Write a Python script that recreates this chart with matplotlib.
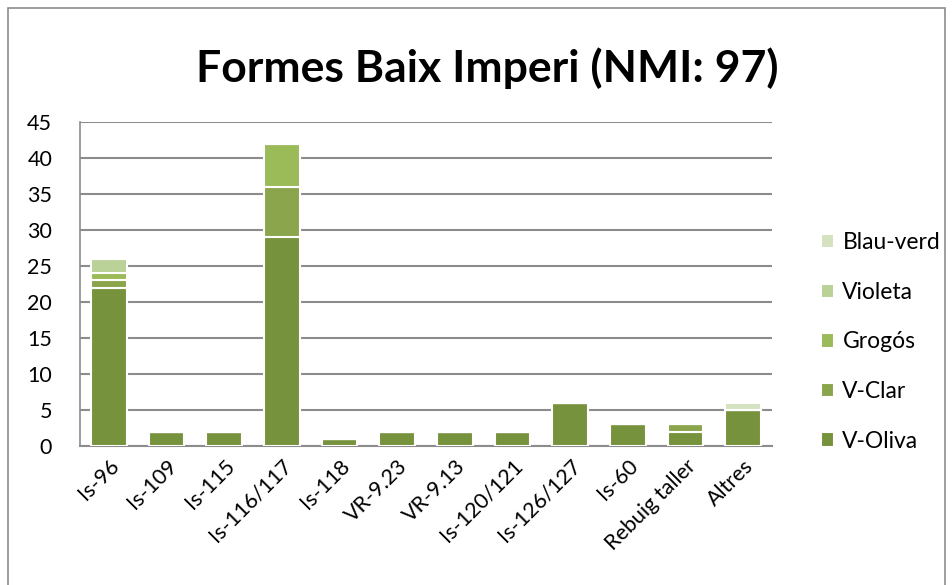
import matplotlib.pyplot as plt
import numpy as np
from matplotlib.patches import Rectangle

plt.rcParams['font.family'] = ['Lato', 'DejaVu Sans']

categories = ['Is-96', 'Is-109', 'Is-115', 'Is-116/117', 'Is-118', 'VR-9.23',
              'VR-9.13', 'Is-120/121', 'Is-126/127', 'Is-60', 'Rebuig taller', 'Altres']
v_oliva = [22, 2, 2, 29, 1, 2, 2, 2, 6, 3, 2, 5]
v_clar = [1, 0, 0, 7, 0, 0, 0, 0, 0, 0, 1, 0]
grogos = [1, 0, 0, 6, 0, 0, 0, 0, 0, 0, 0, 0]
violeta = [2, 0, 0, 0, 0, 0, 0, 0, 0, 0, 0, 0]
blau_verd = [0, 0, 0, 0, 0, 0, 0, 0, 0, 0, 0, 1]

series = [('V-Oliva', v_oliva, '#77923c'),
          ('V-Clar', v_clar, '#8aa54b'),
          ('Grogós', grogos, '#9bbb59'),
          ('Violeta', violeta, '#bad197'),
          ('Blau-verd', blau_verd, '#d4e2c0')]

fig = plt.figure(figsize=(9.52, 5.85), dpi=100)
ax = fig.add_axes([80 / 952, 1 - 446 / 585, 692 / 952, 324 / 585])

x = np.arange(len(categories))
bottom = np.zeros(len(categories))
handles = []
for name, vals, col in series:
    vals = np.array(vals, dtype=float)
    b = ax.bar(x, vals, 0.62, bottom=bottom, color=col, edgecolor='white',
               linewidth=1.5, label=name, zorder=3)
    handles.append(b)
    bottom += vals

ax.set_xlim(-0.5, len(categories) - 0.5)
ax.set_ylim(0, 45)
ax.set_yticks(range(0, 46, 5))
ax.yaxis.grid(True, color='#8c8c8c', linewidth=1.5, zorder=0)
ax.set_axisbelow(True)
for s in ['top', 'right']:
    ax.spines[s].set_visible(False)
ax.spines['left'].set_color('#8c8c8c')
ax.spines['bottom'].set_color('#8c8c8c')
ax.spines['left'].set_linewidth(1.2)
ax.spines['bottom'].set_linewidth(1.5)
ax.tick_params(axis='y', length=0, labelsize=15.5, pad=20)
ax.tick_params(axis='x', length=0, labelsize=15.5, pad=7)
ax.set_xticks(x)
ax.set_xticklabels(categories, rotation=45, ha='right', rotation_mode='anchor')

fig.text(487 / 952, 1 - 68 / 585, 'Formes Baix Imperi (NMI: 97)', ha='center',
         va='center', fontsize=32, fontweight='bold')

fig.legend(handles[::-1], [s[0] for s in series][::-1], loc='center left',
           bbox_to_anchor=(800 / 952, 1 - 342 / 585), frameon=False,
           fontsize=16.5, labelspacing=1.25, handlelength=0.6, handleheight=0.6,
           handletextpad=0.35)

fig.patches.append(Rectangle((8 / 952, -0.01), 937 / 952, 1 - 8 / 585 + 0.01,
                             transform=fig.transFigure, fill=False,
                             edgecolor='#8c8c8c', linewidth=1.2))

fig.savefig('out.png', dpi=100)
